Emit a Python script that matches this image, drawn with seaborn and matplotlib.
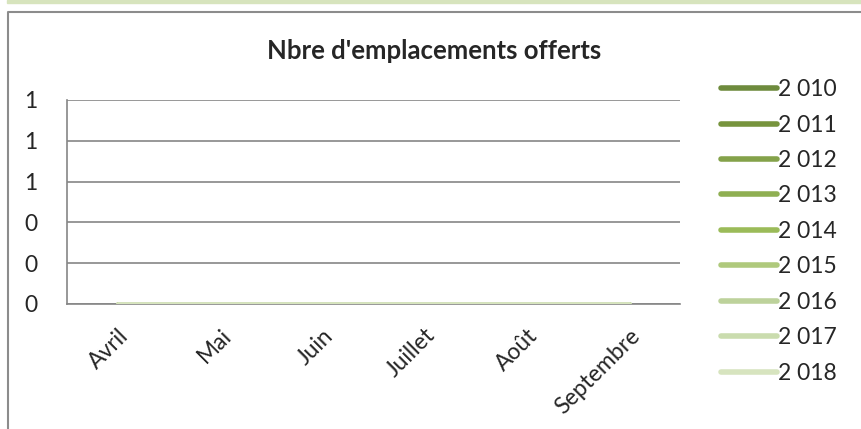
import matplotlib
matplotlib.use('Agg')
import matplotlib.pyplot as plt
import matplotlib.patches as mpatches
import pandas as pd
import seaborn as sns

months = ['Avril', 'Mai', 'Juin', 'Juillet', 'Août', 'Septembre']
years = ['2 010', '2 011', '2 012', '2 013', '2 014', '2 015', '2 016', '2 017', '2 018']
# nombre d'emplacements offerts : tout à zéro
values = [
    [0, 0, 0, 0, 0, 0],
    [0, 0, 0, 0, 0, 0],
    [0, 0, 0, 0, 0, 0],
    [0, 0, 0, 0, 0, 0],
    [0, 0, 0, 0, 0, 0],
    [0, 0, 0, 0, 0, 0],
    [0, 0, 0, 0, 0, 0],
    [0, 0, 0, 0, 0, 0],
    [0, 0, 0, 0, 0, 0],
]
y_ticks = [0, 0.2, 0.4, 0.6, 0.8, 1.0]
colors = ['#6E8B3D', '#77943D', '#84A24A', '#8FAF52', '#9BBB59',
          '#AFC97C', '#BDD29B', '#CADCAE', '#D7E4BF']

rows = []
for year, vals in zip(years, values):
    for i, (m, v) in enumerate(zip(months, vals)):
        rows.append({'mois': i, 'annee': year, 'valeur': v})
df = pd.DataFrame(rows)

sns.set_style('white')
plt.rcParams['font.family'] = ['Lato', 'DejaVu Sans']

fig = plt.figure(figsize=(8.61, 4.29), dpi=100)
ax = fig.add_axes([67 / 861, 1 - 304 / 429, 613 / 861, 204 / 429])

sns.lineplot(data=df, x='mois', y='valeur', hue='annee', hue_order=years,
             palette=colors, linewidth=3.4, solid_capstyle='round',
             ax=ax, legend=False, zorder=3)

ax.set_xlim(-0.5, 5.5)
ax.set_ylim(0, 1)
ax.set_yticks(y_ticks)
ax.set_yticklabels(['%.0f' % v for v in y_ticks], fontsize=16.5)
ax.set_xticks(range(len(months)))
ax.set_xticklabels(months, fontsize=16.5, rotation=45, ha='right',
                   rotation_mode='anchor')
ax.tick_params(axis='x', length=0, pad=15)
ax.tick_params(axis='y', length=0, pad=21)
ax.grid(axis='y', color='#868686', linewidth=1.2)
ax.set_xlabel('')
ax.set_ylabel('')
for side in ['top', 'right']:
    ax.spines[side].set_visible(False)
for side in ['left', 'bottom']:
    ax.spines[side].set_color('#868686')
    ax.spines[side].set_linewidth(1.2)

fig.text(434 / 861, 1 - 51 / 429, "Nbre d'emplacements offerts",
         ha='center', va='center', fontsize=18.5, fontweight='bold')

handles = [plt.Line2D([], [], color=c, linewidth=4, solid_capstyle='round')
           for c in colors]
fig.legend(handles, years, loc='upper left',
           bbox_to_anchor=(712 / 861, 1 - 70 / 429), frameon=False,
           fontsize=16.5, handlelength=2.45, handletextpad=0.05,
           labelspacing=0.63, borderaxespad=0)

# bandeau vert et cadre du graphique
fig.patches.append(mpatches.Rectangle((7 / 861, 1 - 3 / 429), 1, 3 / 429,
                                      transform=fig.transFigure,
                                      color='#D7E4BD', zorder=0))
fig.lines.append(plt.Line2D([8 / 861, 8 / 861, 1], [0, 1 - 12 / 429, 1 - 12 / 429],
                            transform=fig.transFigure, color='#8C8C8C',
                            linewidth=1.5))

fig.savefig('out.png', dpi=100)
